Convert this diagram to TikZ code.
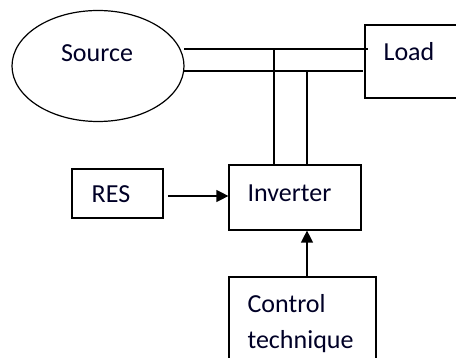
\documentclass[tikz,border=0pt]{standalone}
\usepackage{fontspec}
\setmainfont{Carlito}
\usetikzlibrary{shapes.geometric,arrows.meta}
\begin{document}
\begin{tikzpicture}[x=1pt,y=-1pt,
  line width=1.2pt,
  box/.style={draw,rectangle,inner sep=0pt,minimum width=#1},
  lbl/.style={anchor=base,font=\fontsize{26}{31}\selectfont,inner sep=0pt,text=black!85!blue},
  arr/.style={-{Triangle[length=12pt,width=12pt]}}]
\useasboundingbox (0,0) rectangle (456,358);
% shapes
\node[draw,ellipse,minimum width=172pt,minimum height=111pt,inner sep=0pt] (src) at (98,66) {};
\node[box=105pt,minimum height=73pt] (load) at (417.5,61.5) {};
\node[box=91pt,minimum height=49pt] (res) at (117.5,193.5) {};
\node[box=132pt,minimum height=65pt] (inv) at (295,197.5) {};
\node[box=147pt,minimum height=98pt] (ctl) at (302.5,326) {};
% texts
\node[lbl] (tsrc) at (97,62) {Source};
\node[lbl] (tload) at (409,61) {Load};
\node[lbl] (tres) at (111,203) {RES};
\node[lbl,anchor=base west] (tinv) at (247,202) {Inverter};
\node[lbl,anchor=base west] (tctl) at (247,313) {Control};
\node[lbl,anchor=base west] (ttec) at (247,349) {technique};
% bus
\coordinate (a1) at (184,49);
\coordinate (a2) at (368,49);
\coordinate (b1) at (184,71);
\coordinate (b2) at (363,71);
\coordinate (j1) at (274,49);
\coordinate (j2) at (307,71);
\draw (a1) -- (a2);
\draw (b1) -- (b2);
\draw (j1) -- (j1 |- inv.north);
\draw (j2) -- (j2 |- inv.north);
% arrows
\coordinate (r1) at (168,196);
\draw[arr] (r1) -- (r1 -| inv.west);
\draw[arr] (j2 |- ctl.north) -- (j2 |- inv.south);
\end{tikzpicture}
\end{document}
